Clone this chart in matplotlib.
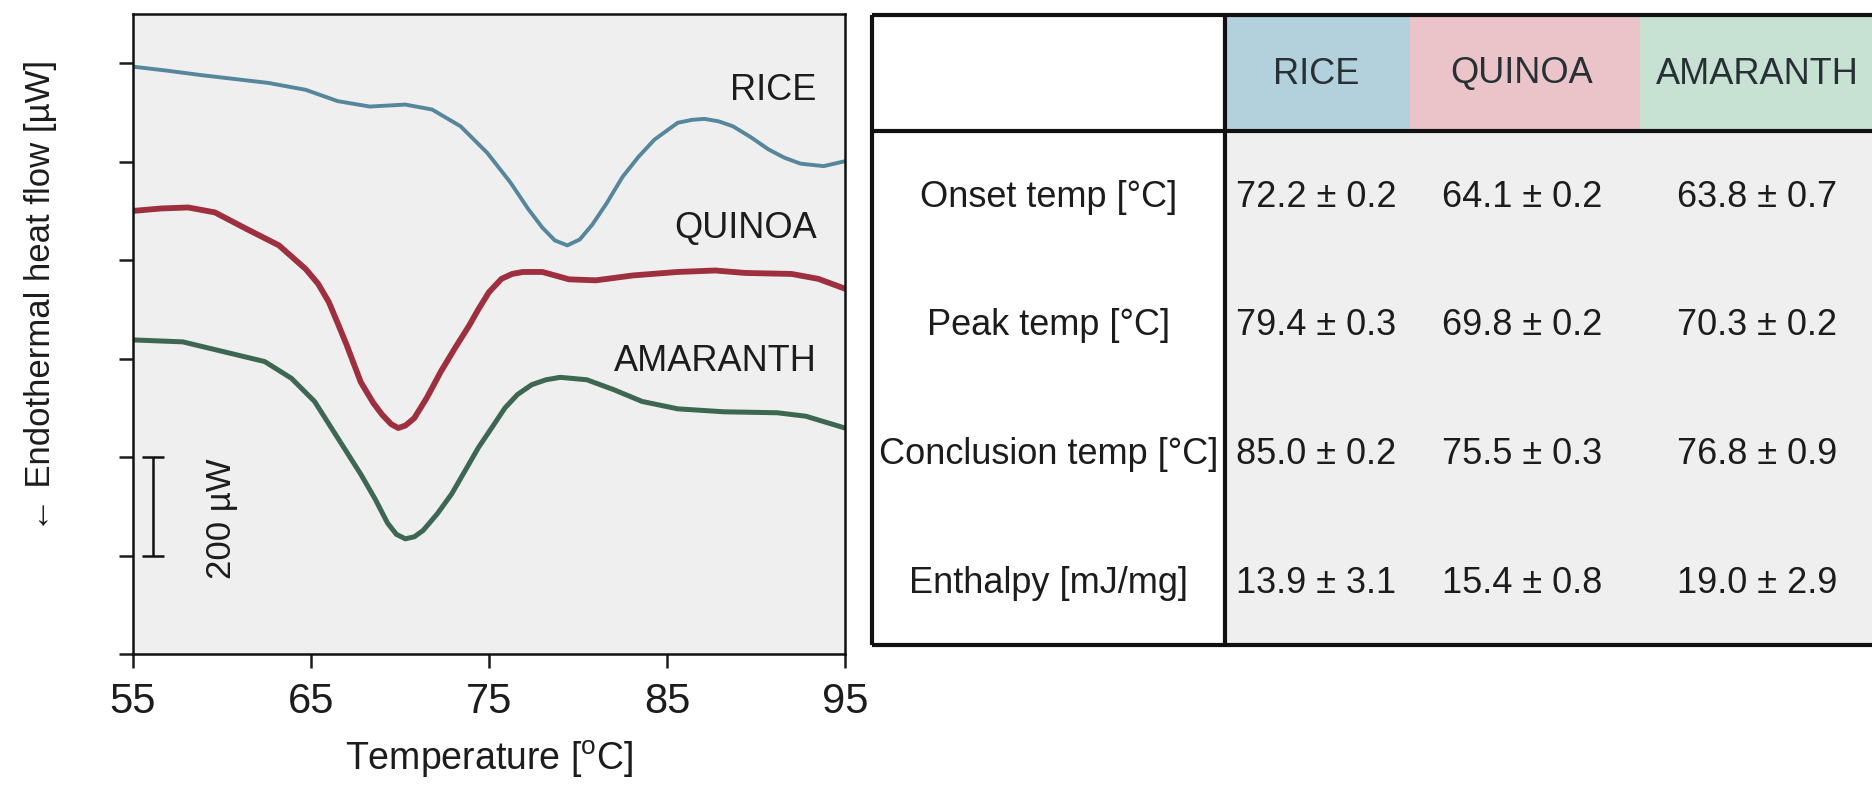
import matplotlib.pyplot as plt
from matplotlib.patches import Rectangle

plt.rcParams['font.family'] = ['Liberation Sans Narrow', 'Liberation Sans', 'DejaVu Sans']

# DSC thermograms, temperature in degC and heat flow in uW (offset per sample)
rice_t = [55.0, 56.9, 58.8, 60.7, 62.6, 64.7, 66.5, 68.3, 70.3, 71.8, 73.4, 74.9,
          76.2, 77.2, 78.0, 78.7, 79.4, 80.1, 80.8, 81.6, 82.5, 83.4, 84.3, 85.6,
          86.4, 87.1, 87.9, 88.7, 89.7, 90.7, 91.6, 92.5, 93.8, 95.0]
rice_q = [1193, 1185, 1176, 1168, 1160, 1146, 1123, 1112, 1116, 1106, 1072, 1018,
          958, 904, 866, 840, 830, 842, 872, 915, 969, 1010, 1045, 1079,
          1085, 1087, 1082, 1072, 1050, 1025, 1008, 996, 991, 1001]

quinoa_t = [55.0, 56.6, 58.1, 59.6, 61.4, 63.2, 64.7, 65.4, 66.0, 66.5, 67.0, 67.8, 68.5,
            69.0, 69.5, 69.9, 70.3, 70.8, 71.5, 72.3, 73.1, 73.9, 74.4, 75.0, 75.7,
            76.3, 76.9, 78.0, 79.5, 81.0, 83.1, 85.6, 87.7, 89.4, 92.0, 93.5, 95.0]
quinoa_q = [900, 905, 907, 897, 863, 830, 782, 752, 715, 672, 628, 552, 510,
            486, 467, 459, 464, 479, 520, 574, 622, 668, 700, 735, 762,
            772, 776, 776, 761, 759, 769, 776, 779, 774, 772, 762, 742]

amaranth_t = [55.0, 57.8, 60.1, 62.4, 63.9, 65.2, 66.5, 67.8, 68.6, 69.3, 69.8, 70.3,
              70.8, 71.3, 72.1, 72.9, 73.7, 74.4, 75.2, 75.9, 76.6, 77.4, 78.2, 79.0,
              80.5, 82.0, 83.6, 85.6, 88.2, 91.2, 92.8, 95.0]
amaranth_q = [638, 634, 614, 594, 560, 513, 439, 365, 315, 266, 243, 234,
              238, 251, 285, 325, 375, 419, 462, 500, 527, 547, 557, 562,
              557, 537, 513, 498, 492, 490, 483, 459]

samples = ['RICE', 'QUINOA', 'AMARANTH']
label_y = [1145, 865, 594]
colors = ['#55869b', '#9e2f3e', '#3e6751']
widths = [2.8, 4.2, 3.6]
header_colors = ['#b3d1dd', '#ebc4c9', '#c7e2d3']

row_names = ['Onset temp [°C]', 'Peak temp [°C]', 'Conclusion temp [°C]', 'Enthalpy [mJ/mg]']
rice_vals = ['72.2 ± 0.2', '79.4 ± 0.3', '85.0 ± 0.2', '13.9 ± 3.1']
quinoa_vals = ['64.1 ± 0.2', '69.8 ± 0.2', '75.5 ± 0.3', '15.4 ± 0.8']
amaranth_vals = ['63.8 ± 0.7', '70.3 ± 0.2', '76.8 ± 0.9', '19.0 ± 2.9']

W, H = 1872, 805
ink = '#1c1c1c'
fig = plt.figure(figsize=(W / 100, H / 100), dpi=100)
fig.patch.set_facecolor('white')

# --- thermogram panel ---
ax = fig.add_axes([133 / W, 1 - 654 / H, (845 - 133) / W, (654 - 14) / H])
ax.set_facecolor('#efefef')
curves = [(rice_t, rice_q), (quinoa_t, quinoa_q), (amaranth_t, amaranth_q)]
for (t, q), c, lw, name, ly in zip(curves, colors, widths, samples, label_y):
    ax.plot(t, q, color=c, lw=lw, solid_capstyle='round', solid_joinstyle='round')
    ax.text(93.4, ly, name, ha='right', va='center', fontsize=26, color=ink)

ax.set_xlim(55, 95)
ax.set_ylim(0, 1300)
ax.set_xticks([55, 65, 75, 85, 95])
ax.set_yticks(range(0, 1300, 200))
ax.set_yticklabels([])
ax.tick_params(direction='out', length=10, width=1.8, labelsize=30, colors=ink, pad=10)
for side in ['left', 'bottom', 'right', 'top']:
    ax.spines[side].set_linewidth(1.8)
    ax.spines[side].set_color('#111111')
ax.set_xlabel('Temperature [$^\\mathregular{o}$C]', fontsize=27, color=ink, labelpad=12)
ax.set_ylabel('← Endothermal heat flow [µW]', fontsize=25, color=ink)
ax.yaxis.set_label_coords(-0.107, 0.56)

# 200 uW scale bar
ax.errorbar([56.1], [300], yerr=[100], color='#111111', lw=1.8, capsize=8, capthick=1.8)
ax.text(60.0, 275, '200 µW', rotation=90, ha='center', va='center', fontsize=25, color=ink)

# --- parameters table, laid out in pixel coordinates ---
tx = fig.add_axes([0, 0, 1, 1], zorder=-1)
tx.set_xlim(0, W)
tx.set_ylim(H, 0)
tx.axis('off')

left, top, bottom, head = 872, 15, 645, 131
col_edges = [1225, 1410, 1640, W + 10]
col_centers = [1316, 1522, 1757]
row_centers = [197, 325, 454, 583]

tx.add_patch(Rectangle((left, top), col_edges[0] - left, bottom - top, facecolor='white', edgecolor='none'))
tx.add_patch(Rectangle((col_edges[0], head), col_edges[-1] - col_edges[0], bottom - head,
                       facecolor='#efefef', edgecolor='none'))
for i, hc in enumerate(header_colors):
    tx.add_patch(Rectangle((col_edges[i], top), col_edges[i + 1] - col_edges[i], head - top,
                           facecolor=hc, edgecolor='none'))

lk = dict(color='#111111', lw=3, solid_capstyle='butt')
tx.plot([left, W + 10], [top, top], **lk)
tx.plot([left, W + 10], [bottom, bottom], **lk)
tx.plot([left, W + 10], [head, head], **lk)
tx.plot([left, left], [top, bottom], **lk)
tx.plot([col_edges[0], col_edges[0]], [top, bottom], **lk)

for name, x in zip(samples, col_centers):
    tx.text(x, 74, name, ha='center', va='center', fontsize=26, color='#263035')

for y, rn, a, b, c in zip(row_centers, row_names, rice_vals, quinoa_vals, amaranth_vals):
    tx.text((left + col_edges[0]) / 2, y, rn, ha='center', va='center', fontsize=26, color=ink)
    for x, v in zip(col_centers, [a, b, c]):
        tx.text(x, y, v, ha='center', va='center', fontsize=26, color=ink)

fig.savefig('out.png', dpi=100, facecolor='white')
